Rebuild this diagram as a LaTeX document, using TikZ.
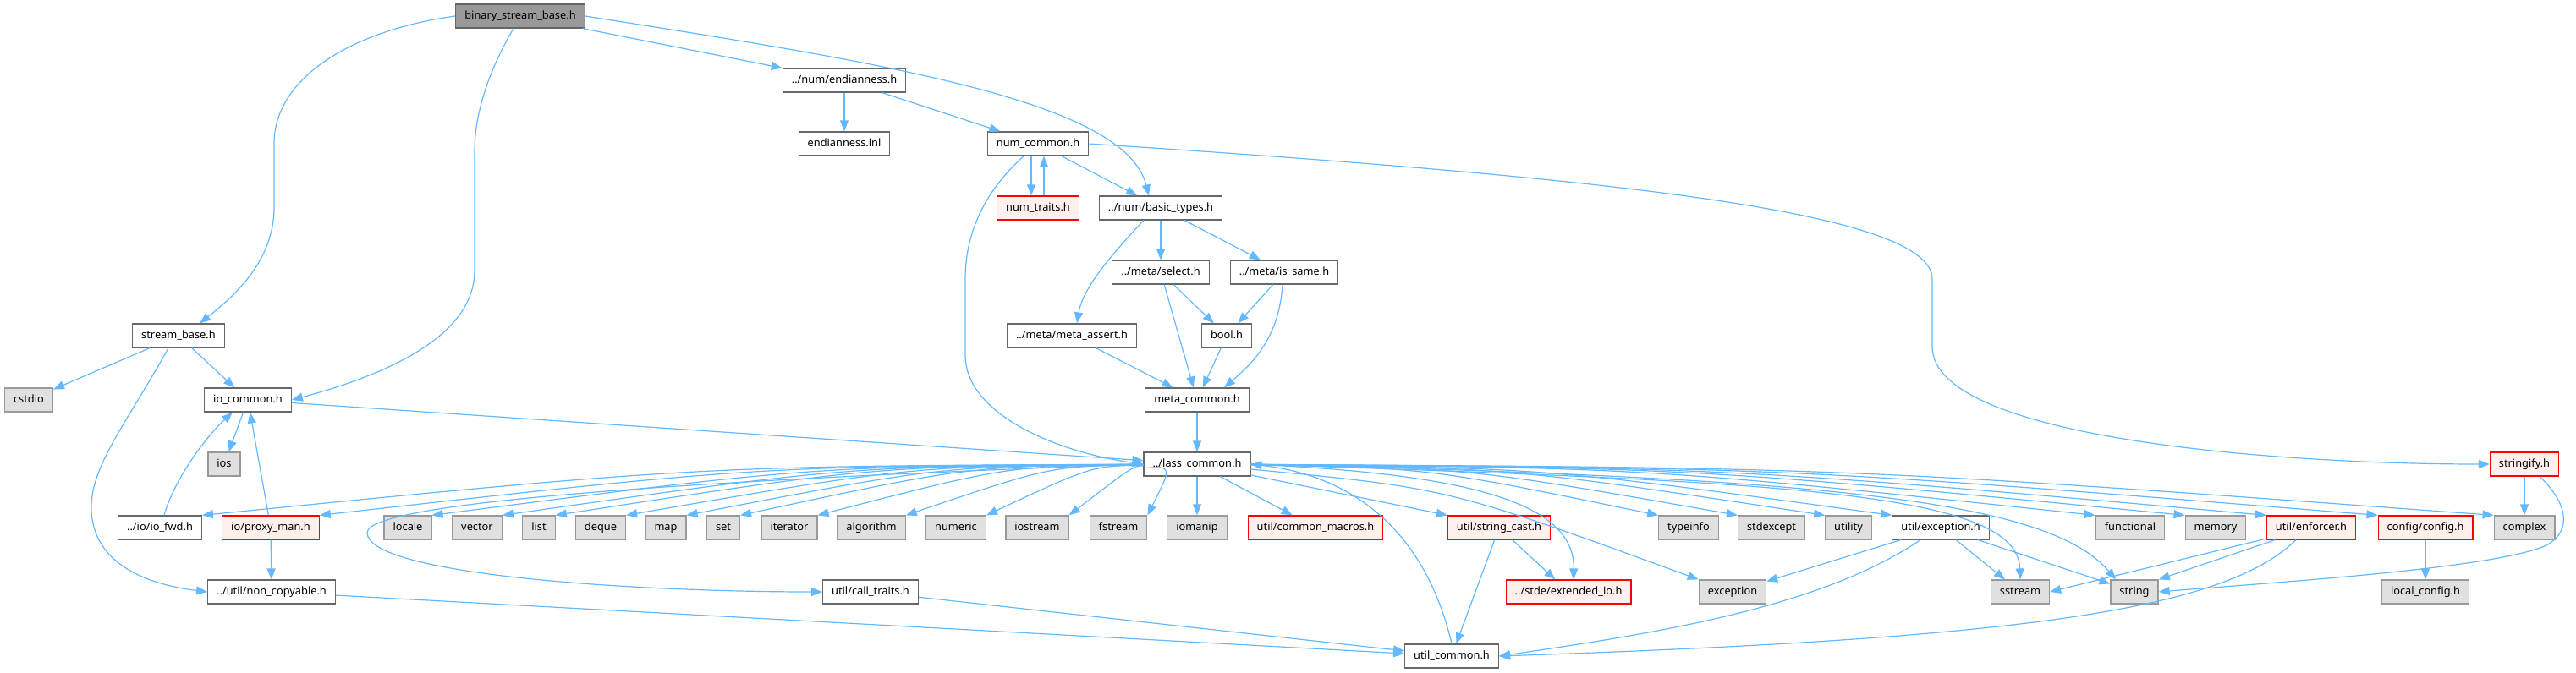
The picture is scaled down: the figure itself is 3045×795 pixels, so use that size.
\documentclass[tikz,border=0pt]{standalone}
\usepackage{fontspec}
\setmainfont{Noto Sans}
\usetikzlibrary{arrows.meta,calc}
\definecolor{edgeblue}{HTML}{63B8FF}
\definecolor{rootfill}{HTML}{999999}
\definecolor{rootborder}{HTML}{666666}
\definecolor{fileborder}{HTML}{666666}
\definecolor{sysfill}{HTML}{E0E0E0}
\definecolor{sysborder}{HTML}{999999}
\definecolor{redfill}{HTML}{FFF0F0}
\definecolor{redborder}{HTML}{FF0000}
\begin{document}
\begin{tikzpicture}[x=1pt,y=-1pt,
		box/.style={draw,line width=1.2pt,minimum height=28pt,inner xsep=10.5pt,inner ysep=0pt,
			text height=9.6pt,text depth=2.8pt,font=\fontsize{12.8}{15}\selectfont},
		rootnode/.style={box,draw=rootborder,fill=rootfill},
		filenode/.style={box,draw=fileborder,fill=white},
		sysnode/.style={box,draw=sysborder,fill=sysfill},
		rednode/.style={box,draw=redborder,fill=redfill},
		dep/.style={draw=edgeblue,line width=1.2pt,-{Triangle[length=13pt,width=10pt]}}]
	\useasboundingbox (0,0) rectangle (3045,795);
	% headers of the project
	\node[rootnode] (bsb) at (615,19) {binary\_stream\_base.h};
	\node[filenode] (endian) at (998,95) {../num/endianness.h};
	\node[filenode] (endinl) at (998,170) {endianness.inl};
	\node[filenode] (numcommon) at (1227,170) {num\_common.h};
	\node[rednode] (numtraits) at (1227,246) {num\_traits.h};
	\node[filenode] (basictypes) at (1372,246) {../num/basic\_types.h};
	\node[filenode] (select) at (1372,322) {../meta/select.h};
	\node[filenode] (issame) at (1518,322) {../meta/is\_same.h};
	\node[filenode] (streambase) at (211,397) {stream\_base.h};
	\node[filenode] (metaassert) at (1267,397) {../meta/meta\_assert.h};
	\node[filenode] (bool) at (1450,397) {bool.h};
	\node[filenode] (iocommon) at (293,473) {io\_common.h};
	\node[filenode] (metacommon) at (1415,473) {meta\_common.h};
	\node[filenode] (lass) at (1415,549) {../lass\_common.h};
	\node[rednode] (stringify) at (2984,549) {stringify.h};
	\node[filenode] (iofwd) at (189,624) {../io/io\_fwd.h};
	\node[rednode] (proxyman) at (320,624) {io/proxy\_man.h};
	\node[rednode] (commonmacros) at (1555,624) {util/common\_macros.h};
	\node[rednode] (stringcast) at (1772,624) {util/string\_cast.h};
	\node[filenode] (exceptionh) at (2294,624) {util/exception.h};
	\node[rednode] (enforcer) at (2732,624) {util/enforcer.h};
	\node[rednode] (config) at (2867,624) {config/config.h};
	\node[filenode] (noncopyable) at (321,700) {../util/non\_copyable.h};
	\node[filenode] (calltraits) at (1029,700) {util/call\_traits.h};
	\node[rednode] (extio) at (1854,700) {../stde/extended\_io.h};
	\node[sysnode] (localconfig) at (2867,700) {local\_config.h};
	\node[filenode] (utilcommon) at (1716,776) {util\_common.h};
	% system headers
	\foreach \n/\x/\y in {cstdio/34/473, ios/265/549, locale/482/624, vector/564/624, list/637/624,
			deque/710/624, map/787/624, set/855/624, iterator/933/624, algorithm/1030/624,
			numeric/1130/624, iostream/1226/624, fstream/1322/624, iomanip/1415/624,
			typeinfo/1996/624, stdexcept/2094/624, utility/2185/624, functional/2518/624,
			memory/2619/624, complex/2984/624, exception/2048/700, sstream/2388/700, string/2523/700} {
			\node[sysnode] (\n) at (\x,\y) {\n};
		}

	% binary_stream_base.h
	\draw[dep] (bsb.west) .. controls (420,35) and (324,90) .. (324,170) -- (324,245)
		.. controls (324,300) and (290,340) .. ([xshift=25pt]streambase.north);
	\draw[dep] ([xshift=-8pt]bsb.south) .. controls (580,80) and (561,130) .. (561,180) -- (561,320)
		.. controls (561,400) and (450,445) .. (iocommon.east);
	\draw[dep] (bsb) -- (endian);
	\draw[dep] (bsb.east) .. controls (1050,75) and (1330,120) .. ([xshift=-14pt]basictypes.north);

	% num and meta
	\draw[dep] (endian) -- (endinl);
	\draw[dep] (endian) -- (numcommon);
	\draw[dep] ([xshift=-8pt]numcommon.south) -- ([xshift=-8pt]numtraits.north);
	\draw[dep] ([xshift=7pt]numtraits.north) -- ([xshift=7pt]numcommon.south);
	\draw[dep] (numcommon) -- (basictypes);
	\draw[dep] ([xshift=-17pt]numcommon.south) .. controls (1160,230) and (1141,280) .. (1141,330) -- (1141,420)
		.. controls (1141,490) and (1250,535) .. (lass.west);
	\draw[dep] (numcommon.east) .. controls (1900,210) and (2284,250) .. (2284,330) -- (2284,410)
		.. controls (2284,520) and (2700,549) .. (stringify.west);
	\draw[dep] ([xshift=-20pt]basictypes.south) .. controls (1315,300) and (1280,340) .. ([xshift=6pt]metaassert.north);
	\draw[dep] (basictypes) -- (select);
	\draw[dep] (basictypes) -- (issame);
	\draw[dep] (select) -- (bool);
	\draw[dep] (select) -- (metacommon);
	\draw[dep] (issame) -- (bool);
	\draw[dep] ([xshift=-2pt]issame.south) .. controls (1512,400) and (1480,430) .. ([xshift=32pt]metacommon.north);
	\draw[dep] (metaassert) -- (metacommon);
	\draw[dep] (bool) -- (metacommon);
	\draw[dep] (metacommon) -- (lass);

	% io
	\draw[dep] (streambase) -- (cstdio);
	\draw[dep] (streambase) -- (iocommon);
	\draw[dep] ([xshift=-12pt]streambase.south) .. controls (150,500) and (108,550) .. (108,600)
		.. controls (108,670) and (180,692) .. (noncopyable.west);
	\draw[dep] (iocommon) -- (ios);
	\draw[dep] (iocommon) -- (lass);
	\draw[dep] ([xshift=5pt]iofwd.north) .. controls (205,570) and (240,520) .. ([xshift=-18pt]iocommon.south);
	\draw[dep] (proxyman) -- (iocommon);
	\draw[dep] (proxyman) -- (noncopyable);
	\draw[dep] (noncopyable) -- (utilcommon);

	% ../lass_common.h
	\foreach \n in {iofwd,proxyman,locale,vector,list,deque,map,set,iterator,algorithm,numeric,iostream,fstream} {
			\draw[dep] (lass) .. controls ($(lass)!0.5!(\n.north east)+(0,-28)$) .. (\n.north east);
		}
	\foreach \n in {typeinfo,stdexcept,utility,exceptionh,functional,memory,enforcer,config,complex} {
			\draw[dep] (lass) .. controls ($(lass)!0.5!(\n.north west)+(0,-26)$) .. (\n.north west);
		}
	\draw[dep] (lass) -- (iomanip);
	\draw[dep] (lass) -- (commonmacros);
	\draw[dep] (lass) -- (stringcast.north west);
	\draw[dep] (lass) .. controls ($(lass)!0.5!(exception.north west)+(0,-40)$) .. (exception.north west);
	\draw[dep] (lass.east) .. controls (1720,560) and (1862,590) .. ([xshift=6pt]extio.north);
	\draw[dep] (lass.east) .. controls (2100,570) and (2385,580) .. (sstream.north);
	\draw[dep] (lass.east) .. controls (2150,565) and (2420,590) .. ([xshift=-22pt]string.north);
	\draw[dep] (lass.west) .. controls (900,565) and (434,590) .. (434,630)
		.. controls (434,680) and (750,700) .. (calltraits.west);
	\draw[dep] (utilcommon.north) .. controls (1690,650) and (1620,565) .. (lass.east);

	% util
	\draw[dep] (calltraits) -- (utilcommon);
	\draw[dep] (stringcast) -- (utilcommon);
	\draw[dep] (stringcast) -- (extio);
	\draw[dep] (exceptionh) -- (exception);
	\draw[dep] ([xshift=-24pt]exceptionh.south) .. controls (2150,720) and (1950,750) .. (utilcommon.east);
	\draw[dep] (exceptionh) -- (sstream);
	\draw[dep] (exceptionh) -- (string);
	\draw[dep] (enforcer) -- (sstream.east);
	\draw[dep] (enforcer) -- (string.north east);
	\draw[dep] ([xshift=-18pt]enforcer.south) .. controls (2630,720) and (2400,755) .. (utilcommon.east);
	\draw[dep] (config) -- (localconfig);
	\draw[dep] (stringify) -- (complex);
	\draw[dep] ([xshift=18pt]stringify.south) .. controls (3030,590) and (3045,625) .. (3010,645)
		.. controls (2950,672) and (2700,688) .. (string.east);
\end{tikzpicture}
\end{document}
